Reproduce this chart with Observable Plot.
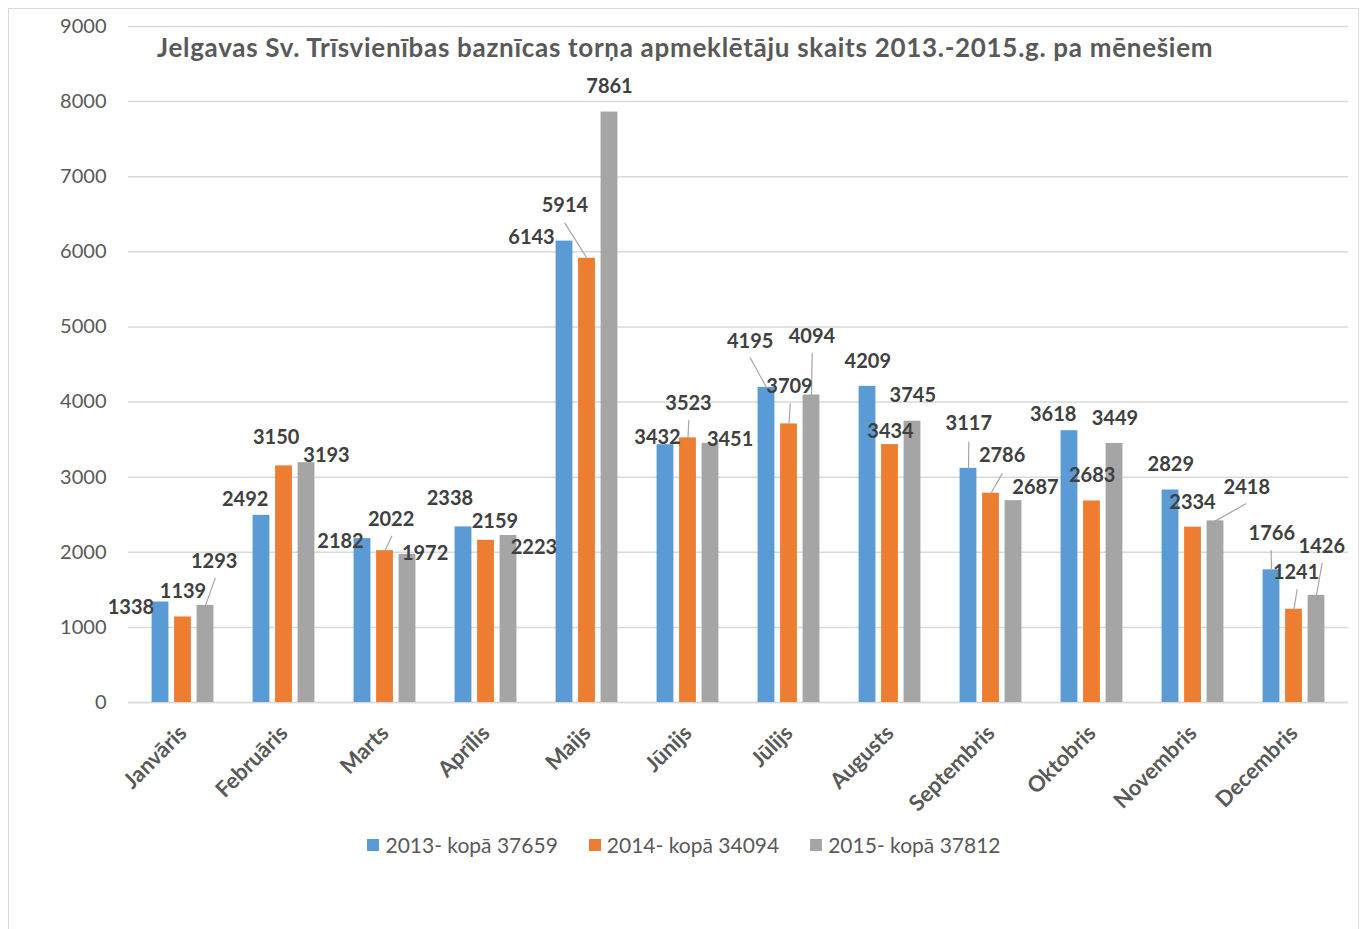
<!DOCTYPE html>
<html><head><meta charset="utf-8">
<script src="https://cdn.jsdelivr.net/npm/d3@7"></script>
<script src="https://cdn.jsdelivr.net/npm/@observablehq/plot@0.6"></script>
<style>
body{margin:0;background:#fff;font-family:Lato,sans-serif;overflow:hidden}
#wrap{position:relative;width:1368px;height:929px}
#frame{position:absolute;left:8px;top:8px;width:1351px;height:960px;border:1px solid #d9d9d9;box-sizing:border-box}
#chart{position:absolute;left:0;top:0}
#title{position:absolute;left:157px;top:32px;font-weight:700;font-size:26px;letter-spacing:0.7px;color:#595959;white-space:nowrap;line-height:30px}
#legend{position:absolute;left:0;width:1368px;top:831px;display:flex;justify-content:center;gap:31px;font-size:21px;color:#595959;line-height:28px}
.item{display:flex;align-items:center;gap:6px}
.sw{width:12px;height:12px;display:inline-block}
</style></head>
<body><div id="wrap"><div id="frame"></div><div id="chart"></div><div id="title"></div><div id="legend"></div></div>
<script>
// ---- data ----
const title = "Jelgavas Sv. Trīsvienības baznīcas torņa apmeklētāju skaits 2013.-2015.g. pa mēnešiem";
const months = ["Janvāris","Februāris","Marts","Aprīlis","Maijs","Jūnijs","Jūlijs","Augusts","Septembris","Oktobris","Novembris","Decembris"];
const seriesNames = ["2013- kopā 37659","2014- kopā 34094","2015- kopā 37812"];
const v2013 = [1338,2492,2182,2338,6143,3432,4195,4209,3117,3618,2829,1766];
const v2014 = [1139,3150,2022,2159,5914,3523,3709,3434,2786,2683,2334,1241];
const v2015 = [1293,3193,1972,2223,7861,3451,4094,3745,2687,3449,2418,1426];
const yTicks = [0,1000,2000,3000,4000,5000,6000,7000,8000,9000];

// ---- styling / layout ----
const colors = ["#5b9bd5","#ed7d31","#a5a5a5"];
const seriesShift = [-22.5, 0, 22.5];       // px offset of each series inside a month band
const barWidth = 17.5;
// label nudges (px, relative to bar-top centre), mimicking the reference label placement
const labelNudge = [
  [[-29.6,5.5],[-16.3,-15.8],[-22,2.6],[-13.6,-28.7],[-33,-3.3],[-8,-6.9],[-16.3,-46.2],[0.3,-25.2],[0.3,-44.6],[-16.3,-16.2],[0.3,-25.5],[0.3,-36.1]],
  [[0,-25],[-7.8,-28.7],[6.1,-31.1],[8.9,-19.1],[-22.1,-52.8],[0.5,-34.1],[0.5,-37.4],[0.5,-13.4],[11.1,-37.7],[0.2,-25.5],[-0.5,-25],[2.1,-37.1]],
  [[8.7,-44],[20,-7.2],[17.6,-0.6],[25.4,11.7],[0,-25.6],[19.6,-3.5],[0.4,-58.5],[0.3,-25.7],[22,-13.5],[0.4,-24.6],[31.3,-33.7],[5.3,-48.9]]
];
// leader lines: [series, month, endDx, endDy] (px from bar-top centre)
const leaders = [
  [2,0,9.7,-27],[1,2,6.8,-14.4],[1,4,-22.1,-35.1],[1,5,0.8,-17.4],[0,6,-16.3,-29.6],[1,6,1.2,-20.1],
  [2,6,0.7,-41.8],[0,8,0.3,-26.2],[1,8,11.1,-19.4],[2,10,30.3,-17.1],[0,11,-0.4,-19.4],[1,11,3.1,-19.8],[2,11,5.6,-32.2]
];

const W = 1368, H = 820, ML = 128, MR = 20, MT = 26, MB = 118;
const step = (W - ML - MR) / months.length;
const inset = (step - barWidth) / 2;

const values = [v2013, v2014, v2015];
const rows = values.flatMap((vals, s) => vals.map((v, m) => ({s, month: months[m], m, value: v})));

const marks = [
  Plot.gridY(yTicks, {stroke: "#d9d9d9", strokeOpacity: 1, strokeWidth: 1.5}),
  Plot.ruleY([0], {stroke: "#d9d9d9", strokeWidth: 1.5}),
];
values.forEach((vals, s) => {
  marks.push(Plot.barY(rows.filter(d => d.s === s), {
    x: "month", y: "value", fill: colors[s], dx: seriesShift[s], insetLeft: inset, insetRight: inset
  }));
});
leaders.forEach(([s, m, ex, ey]) => {
  const d = rows.find(r => r.s === s && r.m === m);
  marks.push(Plot.vector([d], {
    x: "month", y: "value", dx: seriesShift[s], anchor: "start",
    length: Math.hypot(ex, ey), rotate: Math.atan2(ex, -ey) * 180 / Math.PI,
    stroke: "#a6a6a6", strokeWidth: 1.2,
    shape: {draw(ctx, l) { ctx.moveTo(0, 0); ctx.lineTo(0, -l); }}
  }));
});
rows.forEach(d => {
  const [nx, ny] = labelNudge[d.s][d.m];
  marks.push(Plot.text([d], {
    x: "month", y: "value", text: r => String(r.value),
    dx: seriesShift[d.s] + nx, dy: ny, lineAnchor: "middle", textAnchor: "middle",
    fill: "#404040", fontSize: 20, fontWeight: "bold"
  }));
});
marks.push(Plot.axisY(yTicks, {tickSize: 0, tickPadding: 22, fontSize: 20, color: "#595959", tickFormat: d => String(d), label: null}));
marks.push(Plot.axisX({tickSize: 0, tickRotate: -45, tickPadding: 27, fontSize: 22, fontWeight: "bold", color: "#595959", label: null}));

const chart = Plot.plot({
  width: W, height: H, marginLeft: ML, marginRight: MR, marginTop: MT, marginBottom: MB,
  style: {fontFamily: "Lato, sans-serif", background: "transparent"},
  x: {type: "band", domain: months, padding: 0, label: null},
  y: {domain: [0, 9000], label: null},
  marks
});
document.getElementById("chart").appendChild(chart);
document.getElementById("title").textContent = title;
const legend = document.getElementById("legend");
seriesNames.forEach((n, i) => {
  const it = document.createElement("div"); it.className = "item";
  const sw = document.createElement("span"); sw.className = "sw"; sw.style.background = colors[i];
  const tx = document.createElement("span"); tx.textContent = n;
  it.appendChild(sw); it.appendChild(tx); legend.appendChild(it);
});
</script></body></html>
